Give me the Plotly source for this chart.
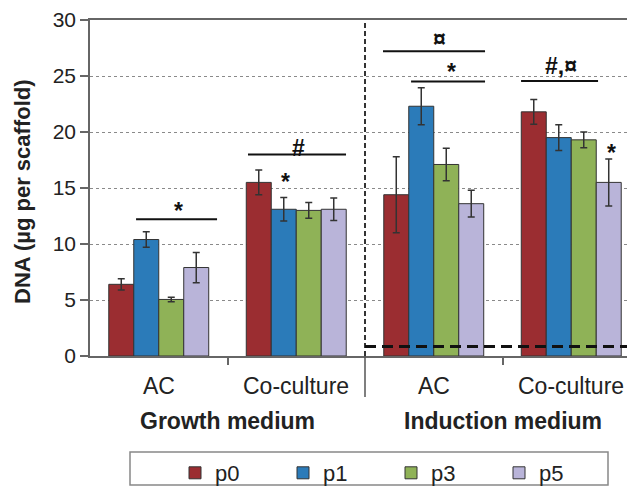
import plotly.graph_objects as go

# ---- data ----
groups = ["AC", "Co-culture", "AC", "Co-culture"]
media = ["Growth medium", "Induction medium"]
series = ["p0", "p1", "p3", "p5"]
p0 = [6.4, 15.5, 14.4, 21.8]
p1 = [10.4, 13.1, 22.3, 19.5]
p3 = [5.05, 13.0, 17.1, 19.3]
p5 = [7.9, 13.1, 13.6, 15.5]
p0_err = [0.5, 1.1, 3.4, 1.1]
p1_err = [0.7, 1.05, 1.65, 1.15]
p3_err = [0.2, 0.7, 1.45, 0.7]
p5_err = [1.35, 1.0, 1.2, 2.1]
y_ticks = [0, 5, 10, 15, 20, 25, 30]
threshold = 0.85

colors = ["#9b2d31", "#2b7bb9", "#8fb257", "#b9b4d9"]
FONT = "Liberation Sans, Arial, sans-serif"

xpos = list(range(len(groups)))
fig = go.Figure()
for name, vals, errs, col in zip(series, [p0, p1, p3, p5], [p0_err, p1_err, p3_err, p5_err], colors):
    fig.add_trace(go.Bar(
        x=xpos, y=vals, name=name,
        marker=dict(color=col, line=dict(color="#333333", width=1)),
        error_y=dict(type="data", array=errs, color="#333333", thickness=1.5, width=3.5),
    ))

# page body has an 8px margin -> figure is offset by 8px
OFF = 8
W, H = 635 - OFF, 487 - OFF
L, R, T, B = 90 - OFF, 0, 20 - OFF, 131
pw = W - L - R
ph = H - T - B
grp_px = 137.5
xr = [-0.5, -0.5 + pw / grp_px]


def py2paper(py):  # py: pixel in reference picture
    return (H - B - (py - OFF)) / ph


def pxpaper(px):
    return (px - OFF - L) / pw


fig.update_layout(
    width=W, height=H,
    margin=dict(l=L, r=R, t=T, b=B, pad=0, autoexpand=False),
    plot_bgcolor="white", paper_bgcolor="white",
    barmode="group", bargap=0.273, bargroupgap=0,
    font=dict(family=FONT, color="#222222", size=21),
    showlegend=True,
    legend=dict(orientation="h", x=pxpaper(175), xanchor="left", y=py2paper(452), yanchor="top",
                font=dict(size=22, family=FONT, color="#222222"),
                entrywidth=63, entrywidthmode="pixels", bgcolor="rgba(0,0,0,0)",
                borderwidth=0, itemclick=False),
)
fig.update_xaxes(range=xr, tickvals=[0.5, 2.5], ticks="outside", ticklen=7, tickcolor="#666666",
                 tickwidth=1.5, showticklabels=False, showgrid=False, zeroline=False,
                 showline=True, linecolor="#666666", linewidth=1.5, mirror=True)
fig.update_yaxes(range=[0, 30], tickvals=y_ticks, ticks="outside", ticklen=8, tickcolor="#666666",
                 tickwidth=1.5, showgrid=True, gridcolor="#8a8a8a", griddash="dot", gridwidth=1,
                 zeroline=False, showline=True, linecolor="#666666", linewidth=1.5,
                 tickfont=dict(size=21, color="#222222"))

# separator between media
fig.add_shape(type="line", xref="x", yref="y", x0=1.5, x1=1.5, y0=0, y1=30,
              line=dict(color="#333333", width=2, dash="5px,3px"))
fig.add_shape(type="line", xref="x", yref="paper", x0=1.5, x1=1.5, y0=0, y1=py2paper(397),
              line=dict(color="#555555", width=1.5))
# detection threshold
fig.add_shape(type="line", xref="x", yref="y", x0=1.5, x1=xr[1], y0=threshold, y1=threshold,
              line=dict(color="#111111", width=3, dash="11px,6px"))

# significance bars
sig_lines = [(-0.165, 0.424, 12.2), (0.649, 1.362, 18.0), (1.631, 2.373, 27.2),
             (1.835, 2.373, 24.5), (2.635, 3.195, 24.55)]
for x0, x1, yv in sig_lines:
    fig.add_shape(type="line", xref="x", yref="y", x0=x0, x1=x1, y0=yv, y1=yv,
                  line=dict(color="#111111", width=2))

sig_text = [(0.14, 13.26, "*"), (1.013, 18.6, "#"), (0.925, 15.9, "*"), (2.045, 28.3, "¤"),
            (2.131, 25.7, "*"), (2.925, 25.9, "#,¤"), (3.294, 18.5, "*")]
for xv, yv, t in sig_text:
    dy = 4 if t == "*" else 0
    fig.add_annotation(x=xv, y=yv, xref="x", yref="y", text="<b>%s</b>" % t, showarrow=False,
                       font=dict(size=23, color="#111111"), yanchor="middle", yshift=-dy)

# category labels
for i, g in enumerate(groups):
    fig.add_annotation(x=i, y=py2paper(386), xref="x", yref="paper", text=g, showarrow=False,
                       font=dict(size=23, color="#222222"), yanchor="middle")
for j, m in enumerate(media):
    fig.add_annotation(x=0.5 + 2 * j, y=py2paper(421), xref="x", yref="paper", text="<b>%s</b>" % m,
                       showarrow=False, font=dict(size=23, color="#222222"), yanchor="middle")

# y title
fig.add_annotation(x=pxpaper(22), y=py2paper(192), xref="paper", yref="paper",
                   text="<b>DNA (µg per scaffold)</b>",
                   textangle=-90, showarrow=False, font=dict(size=22, color="#222222"),
                   xanchor="center", yanchor="middle")

# legend frame
fig.add_shape(type="rect", xref="paper", yref="paper", x0=pxpaper(130), x1=pxpaper(608),
              y0=py2paper(485), y1=py2paper(452), line=dict(color="#888888", width=1.5))

fig.write_html("out.html")
